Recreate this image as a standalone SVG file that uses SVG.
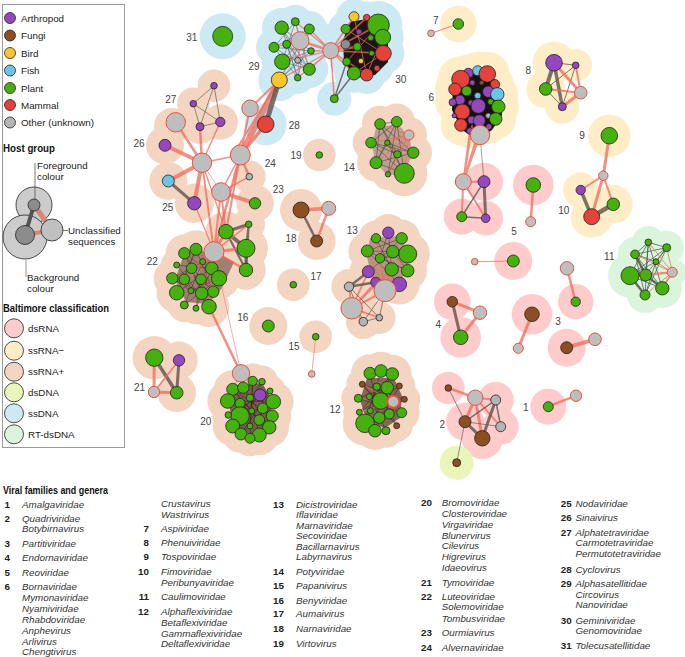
<svg xmlns="http://www.w3.org/2000/svg" width="685" height="657" viewBox="0 0 685 657">
<style>
text{font-family:"Liberation Sans",Arial,sans-serif}
.lg{font-size:9.8px;fill:#222}
.hd{font-size:10px;font-weight:bold;fill:#111}
.cl{font-size:10px;fill:#444;text-anchor:middle}
.nm{font-size:9.8px;font-weight:bold;fill:#222;text-anchor:end}
.it{font-size:9.8px;font-style:italic;fill:#333}
circle{stroke:#222;stroke-width:.8}
.ar{fill:#9448BC}.fu{fill:#8B4F22}.bi{fill:#F8C630}.fi{fill:#6DC4E4}.pl{fill:#46B00E}.ma{fill:#E4423A}.ot{fill:#B4B4B4}
.un{fill:#BEBEBE;stroke:#E9503F;stroke-width:1}
.dsr circle{fill:#FFCBCB;stroke:none}.ssm circle{fill:#FFEDC8;stroke:none}.ssp circle{fill:#F3D5C2;stroke:none}
.dsd circle{fill:#E9F5B9;stroke:none}.ssd circle{fill:#CDE9F4;stroke:none}.rt circle{fill:#DAF5DC;stroke:none}
.er{stroke:#EE6A5A;stroke-opacity:.75;fill:none;stroke-linecap:round}
.ed{stroke:#5D534D;stroke-opacity:.8;fill:none;stroke-linecap:round}
.mesh{stroke:#4a2a22;stroke-width:.7;stroke-opacity:.7;fill:none}
</style>

<g id="legend">
<rect x="2.5" y="4.5" width="122" height="443" fill="#fff" stroke="#9a9a9a"/>
<circle class="ar" cx="10" cy="18" r="5.5"/><text class="lg" x="21" y="21.5">Arthropod</text>
<circle class="fu" cx="10" cy="35.5" r="5.5"/><text class="lg" x="21" y="39">Fungi</text>
<circle class="bi" cx="10" cy="53" r="5.5"/><text class="lg" x="21" y="56.5">Bird</text>
<circle class="fi" cx="10" cy="70.5" r="5.5"/><text class="lg" x="21" y="74">Fish</text>
<circle class="pl" cx="10" cy="88" r="5.5"/><text class="lg" x="21" y="91.5">Plant</text>
<circle class="ma" cx="10" cy="105" r="5.5"/><text class="lg" x="21" y="108.5">Mammal</text>
<circle class="ot" cx="10" cy="122.5" r="5.5"/><text class="lg" x="21" y="126">Other (unknown)</text>
<text class="hd" x="3" y="152" textLength="52" lengthAdjust="spacingAndGlyphs">Host group</text>
<circle cx="34" cy="205" r="18" fill="#CCCCCC" stroke="none"/>
<circle cx="25" cy="237" r="22" fill="#CCCCCC" stroke="none"/>
<line x1="34" y1="205" x2="52" y2="230" stroke="#D9867A" stroke-width="5"/>
<line x1="25" y1="235" x2="52" y2="230" stroke="#D9867A" stroke-width="4"/>
<line x1="34" y1="205" x2="25" y2="235" stroke="#555" stroke-width="4"/>
<circle cx="34" cy="205" r="6" fill="#8C8C8C"/>
<circle cx="25" cy="235" r="9.5" fill="#8C8C8C"/>
<circle cx="52" cy="230" r="11" fill="#C0C0C0" stroke="#E8453A" stroke-width="1.2"/>
<line x1="35" y1="163" x2="35" y2="200" stroke="#555" stroke-width=".8"/>
<line x1="63" y1="230.5" x2="68" y2="230.5" stroke="#555" stroke-width=".8"/>
<line x1="26" y1="260" x2="26" y2="277" stroke="#777" stroke-width=".8"/>
<text class="lg" x="37" y="169">Foreground</text>
<text class="lg" x="37" y="180">colour</text>
<text class="lg" x="68" y="234">Unclassified</text>
<text class="lg" x="68" y="245">sequences</text>
<text class="lg" x="27" y="281">Background</text>
<text class="lg" x="27" y="292">colour</text>
<text class="hd" x="3" y="312" textLength="106" lengthAdjust="spacingAndGlyphs">Baltimore classification</text>
<circle cx="14" cy="328.3" r="9.5" fill="#FFCBCB" stroke="none"/><text class="lg" x="28" y="331.8">dsRNA</text>
<circle cx="14" cy="350.7" r="9.5" fill="#FFEDC8" stroke="none"/><text class="lg" x="28" y="354.2">ssRNA−</text>
<circle cx="14" cy="371.7" r="9.5" fill="#F3D5C2" stroke="none"/><text class="lg" x="28" y="375.2">ssRNA+</text>
<circle cx="14" cy="392.3" r="9.5" fill="#E9F5B9" stroke="none"/><text class="lg" x="28" y="395.8">dsDNA</text>
<circle cx="14" cy="413.3" r="9.5" fill="#CDE9F4" stroke="none"/><text class="lg" x="28" y="416.8">ssDNA</text>
<circle cx="14" cy="434.3" r="9.5" fill="#DAF5DC" stroke="none"/><text class="lg" x="28" y="437.8">RT-dsDNA</text>
</g>

<g id="backgrounds">
<g class="ssd">
<circle cx="222.7" cy="36.3" r="23"/>
<circle cx="281.7" cy="27.7" r="19.7"/><circle cx="295.3" cy="21.7" r="17"/><circle cx="309.3" cy="29" r="18"/><circle cx="286.7" cy="44.3" r="17"/><circle cx="274" cy="47.3" r="18"/><circle cx="311" cy="51" r="16.3"/><circle cx="297.7" cy="60.3" r="16"/><circle cx="282.3" cy="61.7" r="20.7"/><circle cx="309.3" cy="69.3" r="19"/><circle cx="297.7" cy="77.7" r="16.3"/><circle cx="279.3" cy="80" r="21"/><circle cx="300" cy="40.7" r="18"/>
<circle cx="354" cy="16.7" r="18"/><circle cx="366.7" cy="17.7" r="16.3"/><circle cx="378.3" cy="25" r="24"/><circle cx="345.7" cy="29" r="17.7"/><circle cx="382.7" cy="37.3" r="21"/><circle cx="345.7" cy="44.3" r="17.7"/><circle cx="383.3" cy="53.3" r="21"/><circle cx="346.7" cy="61.7" r="17"/><circle cx="354" cy="73.3" r="19.7"/><circle cx="366.7" cy="74.7" r="19.3"/><circle cx="377" cy="68.3" r="16"/><circle cx="334.3" cy="98.7" r="17"/><circle cx="330.7" cy="38" r="14"/>
<circle cx="265.7" cy="124.3" r="21"/>
</g>
<g class="ssm">
<circle cx="458.3" cy="24" r="18.3"/>
<circle cx="460.7" cy="79.3" r="23"/><circle cx="487.3" cy="74" r="22.3"/><circle cx="468.3" cy="73.3" r="19"/><circle cx="477.7" cy="70.7" r="19"/><circle cx="495" cy="84.3" r="18.7"/><circle cx="455" cy="89.3" r="20.3"/><circle cx="497.3" cy="94.3" r="20.7"/><circle cx="452.7" cy="102.3" r="17.7"/><circle cx="498.3" cy="106.7" r="20.7"/><circle cx="462.3" cy="111.7" r="21.7"/><circle cx="495.7" cy="119" r="20.3"/><circle cx="461" cy="125" r="20.3"/><circle cx="479.3" cy="120.7" r="20"/><circle cx="470" cy="131" r="17.3"/><circle cx="489" cy="126.7" r="17"/><circle cx="480" cy="100" r="22"/>
<circle cx="554" cy="62.7" r="21.3"/><circle cx="575.7" cy="65.3" r="16.3"/><circle cx="545.7" cy="89" r="19.3"/><circle cx="562.3" cy="106.7" r="17"/>
<circle cx="609.3" cy="135.7" r="21.3"/>
<circle cx="580.7" cy="190" r="17.7"/><circle cx="613.3" cy="204.3" r="19.3"/><circle cx="591.7" cy="216.7" r="21"/>
</g>
<g class="dsr">
<circle cx="484" cy="181.7" r="19"/><circle cx="461.7" cy="216.7" r="18"/><circle cx="485.7" cy="218.3" r="17.3"/>
<circle cx="533.3" cy="185" r="20.3"/><circle cx="513.3" cy="261" r="19"/>
<circle cx="452.3" cy="301.7" r="18.3"/><circle cx="460.7" cy="337.3" r="20.3"/>
<circle cx="532" cy="314.3" r="20.3"/><circle cx="575.7" cy="301.7" r="17.7"/><circle cx="566.7" cy="347.7" r="19"/>
<circle cx="448.3" cy="388" r="16.3"/><circle cx="495.7" cy="400" r="18"/><circle cx="465" cy="421.7" r="19"/><circle cx="500.7" cy="426.7" r="18"/><circle cx="482.3" cy="438.3" r="20.7"/>
<circle cx="548.3" cy="406.7" r="18"/>
</g>
<g class="dsd"><circle cx="456.7" cy="462.7" r="17"/></g>
<g class="rt">
<circle cx="648.3" cy="242.3" r="16.3"/><circle cx="635" cy="254.3" r="17.3"/><circle cx="666.7" cy="247.7" r="17"/><circle cx="656" cy="261.7" r="16"/><circle cx="630" cy="275.7" r="22"/><circle cx="645.7" cy="275" r="19"/><circle cx="662.3" cy="288.3" r="19.7"/><circle cx="645" cy="295" r="18"/><circle cx="672.3" cy="272.3" r="14"/>
</g>
<g class="ssp">
<circle cx="214" cy="85.7" r="16.3"/><circle cx="193.3" cy="103.7" r="16.3"/><circle cx="200" cy="126.7" r="17"/><circle cx="220.3" cy="122" r="17.7"/>
<circle cx="165" cy="145.3" r="19"/><circle cx="172" cy="126" r="18"/>
<circle cx="168.3" cy="181" r="19"/><circle cx="194.3" cy="203.3" r="19.7"/>
<circle cx="249.3" cy="176.7" r="16.3"/><circle cx="255" cy="203.3" r="18.7"/>
<circle cx="319.3" cy="155" r="16.3"/>
<circle cx="380" cy="124" r="18.3"/><circle cx="396.7" cy="121.7" r="18.3"/><circle cx="409" cy="135" r="18"/><circle cx="371" cy="142.7" r="18.3"/><circle cx="413.3" cy="152.7" r="18.7"/><circle cx="376" cy="162.7" r="19"/><circle cx="404.3" cy="173.3" r="23"/><circle cx="388" cy="174.3" r="15.7"/><circle cx="397.3" cy="154.3" r="16.7"/>
<circle cx="301" cy="210" r="21"/><circle cx="316.7" cy="241" r="19"/>
<circle cx="388.3" cy="232.7" r="18.7"/><circle cx="376" cy="238.3" r="17.7"/><circle cx="401.7" cy="238.3" r="18.7"/><circle cx="367.3" cy="251" r="19"/><circle cx="407.7" cy="254" r="22"/><circle cx="407.7" cy="270.7" r="19.3"/><circle cx="368.3" cy="271.7" r="19"/><circle cx="375.7" cy="282.3" r="18"/><circle cx="399.3" cy="284.3" r="20.3"/><circle cx="349" cy="286.7" r="17.7"/><circle cx="363.3" cy="321.7" r="17.3"/><circle cx="379.3" cy="317.7" r="16.3"/><circle cx="388" cy="260" r="20"/><circle cx="360" cy="300" r="16"/>
<circle cx="293.3" cy="284.7" r="16.3"/>
<circle cx="268.3" cy="326" r="19"/>
<circle cx="315.7" cy="336.7" r="16.3"/>
<circle cx="226" cy="231.7" r="20.3"/><circle cx="248.7" cy="224.3" r="16.3"/><circle cx="246" cy="248.3" r="22"/><circle cx="246" cy="270" r="19.7"/><circle cx="184.3" cy="253.3" r="18.7"/><circle cx="196" cy="249.3" r="19"/><circle cx="172.3" cy="278.3" r="18.7"/><circle cx="176.7" cy="292.7" r="20.3"/><circle cx="184.3" cy="305" r="17"/><circle cx="209" cy="306.7" r="20.3"/><circle cx="219" cy="278.3" r="20.7"/><circle cx="196" cy="308.3" r="16"/><circle cx="176.7" cy="265" r="16"/><circle cx="201.7" cy="293.3" r="19.3"/><circle cx="212" cy="258" r="18"/>
<circle cx="154.3" cy="357.7" r="21.7"/><circle cx="179" cy="360.3" r="18.7"/><circle cx="176.7" cy="392.7" r="19.3"/>
<circle cx="252.7" cy="381" r="17.7"/><circle cx="262" cy="381.7" r="16.3"/><circle cx="232.7" cy="389.3" r="19"/><circle cx="243.3" cy="387.7" r="18.7"/><circle cx="270" cy="391" r="16"/><circle cx="227.7" cy="401" r="20.3"/><circle cx="273.3" cy="401.7" r="20.3"/><circle cx="272.3" cy="416" r="19"/><circle cx="228.3" cy="415" r="16.3"/><circle cx="232.7" cy="426" r="20"/><circle cx="269.3" cy="427.3" r="19.7"/><circle cx="241" cy="434" r="19"/><circle cx="259.3" cy="435" r="20"/><circle cx="250" cy="438.3" r="18"/><circle cx="240" cy="416" r="22.3"/>
<circle cx="370" cy="373.3" r="19"/><circle cx="381" cy="371" r="19.3"/><circle cx="392.3" cy="374" r="19.3"/><circle cx="362.3" cy="384.3" r="16"/><circle cx="399.3" cy="386" r="16"/><circle cx="358.3" cy="398.3" r="17"/><circle cx="404.3" cy="399.3" r="16"/><circle cx="359.3" cy="412.3" r="16"/><circle cx="401.7" cy="412.7" r="18"/><circle cx="365" cy="423.3" r="22.3"/><circle cx="375" cy="430.7" r="19.3"/><circle cx="386" cy="430.7" r="17"/><circle cx="396.7" cy="425.7" r="16"/><circle cx="380.7" cy="401" r="21.3"/>
</g>
</g>

<g id="connectors">
<polygon points="462,72 490,70 500,90 502,115 492,130 478,140 462,130 452,110 453,85" fill="#161010"/>
<polygon points="350,22 372,18 388,40 388,62 375,75 355,78 344,62 343,40" fill="#1e1515"/>
<polygon points="376,128 398,124 410,138 412,156 402,176 386,174 375,162 372,144" fill="#5a4038" fill-opacity=".35"/>
<polygon points="370,238 400,236 410,256 406,274 392,286 372,282 367,256" fill="#5a3a30" fill-opacity=".4"/>
<polygon points="184,254 212,250 234,262 222,288 208,304 186,302 175,280" fill="#4a2a22" fill-opacity=".5"/>
<polygon points="237,385 262,383 272,400 270,426 255,436 234,428 229,405" fill="#3a1c16" fill-opacity=".65"/>
<polygon points="367,378 394,378 402,396 400,418 385,428 367,422 360,400" fill="#3a1c16" fill-opacity=".6"/>
<path stroke="#4b5d66" stroke-width=".7" stroke-opacity=".8" fill="none" d="M281.7 27.7L309.3 69.3M281.7 27.7L297.7 77.7M295.3 21.7L282.3 61.7M295.3 21.7L309.3 69.3M309.3 29L274 47.3M309.3 29L282.3 61.7M309.3 29L297.7 77.7M274 47.3L311 51M274 47.3L309.3 69.3M286.7 44.3L309.3 69.3M282.3 61.7L311 51M282.3 61.7L309.3 69.3M279.3 80L311 51M279.3 80L309.3 29M297.7 60.3L281.7 27.7M297.7 77.7L274 47.3M286.7 44.3L297.7 77.7M295.3 21.7L274 47.3M281.7 27.7L311 51M279.3 80L297.7 60.3"/>
<path class="er" stroke-width=".9" d="M300 40.7L281.7 27.7M300 40.7L274 47.3M300 40.7L282.3 61.7M300 40.7L297.7 77.7M300 40.7L309.3 69.3M300 40.7L279.3 80M300 40.7L286.7 44.3M300 40.7L297.7 60.3M300 40.7L295.3 21.7"/>
<path class="er" stroke-width="1.3" d="M330.7 50.7L309.3 29M330.7 50.7L311 51M330.7 50.7L309.3 69.3M330.7 50.7L297.7 77.7M330.7 50.7L295.3 21.7M330.7 50.7L279.3 80M330.7 50.7L282.3 61.7"/>
<path class="er" stroke-width="2.5" d="M330.7 50.7L300 40.7M330.7 50.7L345.7 44.3M330.7 50.7L357.3 46.7"/>
<path class="er" stroke-width="1.6" d="M330.7 50.7L345.7 29M330.7 50.7L346.7 61.7M330.7 50.7L354 73.3M330.7 50.7L354 16.7M330.7 50.7L366.7 74.7M330.7 50.7L378.3 25M330.7 50.7L383.3 53.3M330.7 50.7L366.7 17.7M330.7 50.7L334.3 98.7"/>
<path class="er" stroke-width="1" d="M354 73.3L383.3 53.3M345.7 29L383.3 53.3M346.7 61.7L378.3 25M366.7 74.7L382.7 37.3M354 16.7L366.7 74.7"/>
<path class="ed" stroke-width="1.5" d="M334.3 98.7L346.7 61.7M334.3 98.7L354 73.3"/>
<path class="er" stroke-width="6" stroke-opacity=".6" d="M279.3 80L240.3 155"/>
<path class="er" stroke-width="2" d="M279.3 80L236 150M279.3 80L250 108.3M240.3 155L250 108.3"/>
<path class="ed" stroke-width="5" d="M279.3 80L265.7 124.3"/>
<path class="er" stroke-width="3.5" d="M240.3 155L265.7 124.3"/>
<path class="er" stroke-width="4" d="M202 162.7L165 145.3M202 162.7L168.3 181M202 162.7L194.3 203.3M221 192L255 203.3"/>
<path class="er" stroke-width="2.5" d="M202 162.7L175.7 122.3M202 162.7L200 126.7M240.3 155L249.3 176.7"/>
<path class="er" stroke-width="1.5" d="M202 162.7L220.3 122M202 162.7L240.3 155M240.3 155L221 192M221 192L249.3 176.7"/>
<path class="er" stroke-width=".7" d="M202 162.7L221 192"/>
<path class="ed" stroke-width="3" d="M168.3 181L194.3 203.3"/>
<path class="ed" stroke-width=".8" d="M214 85.7L193.3 103.7M214 85.7L200 126.7M214 85.7L220.3 122M193.3 103.7L200 126.7M193.3 103.7L220.3 122M200 126.7L220.3 122"/>
<path class="er" stroke-width="2" d="M202 162.7L214 251.7M221 192L214 251.7M240.3 155L226 231.7M221 192L226 231.7"/>
<path class="er" stroke-width="2.5" d="M240.3 155L214 251.7"/>
<path class="er" stroke-width="1.3" d="M194.3 203.3L214 251.7M202 162.7L226 231.7"/>
<path class="mesh" d="M184.3 253.3L219 278.3M184.3 253.3L201.7 293.3M196 249.3L176.7 292.7M196 249.3L213.3 291.7M176.7 265L211.7 268.3M176.7 265L209 306.7M191.7 268.3L213.3 291.7M202.7 261.7L184.3 305M202.7 261.7L172.3 278.3M211.7 268.3L176.7 292.7M219 278.3L184.3 305M172.3 278.3L191 290.7M184.3 279.3L209 306.7M201 279.3L196 308.3M191 290.7L219 278.3M201.7 293.3L172.3 278.3M196 249.3L184.3 279.3M191.7 268.3L209 306.7M211.7 268.3L196 308.3M184.3 253.3L201 279.3"/>
<path class="er" stroke-width="1.2" d="M214 251.7L184.3 253.3M214 251.7L191.7 268.3M214 251.7L211.7 268.3M214 251.7L219 278.3M214 251.7L184.3 279.3M214 251.7L201.7 293.3M214 251.7L176.7 292.7M214 251.7L209 306.7M214 251.7L202.7 261.7"/>
<path class="ed" stroke-width="3" d="M226 231.7L248.7 224.3M246 248.3L246 270"/>
<path class="ed" stroke-width="4" d="M226 231.7L246 248.3"/>
<path class="ed" stroke-width="2.2" d="M248.7 224.3L246 248.3M248.7 224.3L246 270M226 231.7L246 270"/>
<path class="er" stroke-width="3" d="M214 251.7L226 231.7M214 251.7L246 248.3"/>
<path class="er" stroke-width="2.5" d="M214 251.7L246 270"/>
<path class="er" stroke-width="1.5" d="M214 251.7L248.7 224.3"/>
<path class="er" stroke-width="2.5" d="M209 306.7L241 373.3"/>
<path class="er" stroke-width=".7" d="M214 251.7L241 373.3"/>
<path stroke="#3a1a14" stroke-width=".7" stroke-opacity=".7" fill="none" d="M252.7 381L250 426M262 381.7L240 416M232.7 389.3L272.3 416M243.3 387.7L269.3 427.3M270 391L228.3 415M260 395L232.7 426M250 397.7L259.3 435M227.7 401L273.3 401.7M240 403.3L269.3 427.3M262.7 408.3L228.3 415M273.3 401.7L241 434M251.7 411L232.7 389.3M259.3 420L232.7 389.3M250 438.3L252.7 381M241 434L270 391"/>
<path class="er" stroke-width="1" d="M241 373.3L252.7 381M241 373.3L243.3 387.7M241 373.3L232.7 389.3M241 373.3L262 381.7"/>
<path class="ed" stroke-width="3.5" d="M154.3 357.7L176.7 392.7"/>
<path class="ed" stroke-width="3" d="M179 360.3L176.7 392.7"/>
<path class="er" stroke-width="3" d="M154.3 357.7L154 392M154 392L176.7 392.7"/>
<path class="er" stroke-width="1.8" d="M179 360.3L154 392"/>
<path class="ed" stroke-width="2.5" d="M301 210L316.7 241"/>
<path class="er" stroke-width="3.5" d="M301 210L328.7 208.3"/>
<path class="er" stroke-width="2.5" d="M328.7 208.3L316.7 241"/>
<path class="er" stroke-width=".8" d="M315.7 336.7L311.7 374"/>
<path stroke="#4e4038" stroke-width=".8" stroke-opacity=".75" fill="none" d="M380 124L413.3 152.7M380 124L397.3 154.3M380 124L404.3 173.3M380 124L376 162.7M396.7 121.7L371 142.7M396.7 121.7L376 162.7M396.7 121.7L388 174.3M396.7 121.7L404.3 173.3M371 142.7L413.3 152.7M371 142.7L404.3 173.3M371 142.7L397.3 154.3M387.3 142.7L404.3 173.3M387.3 142.7L413.3 152.7M376 162.7L413.3 152.7M397.3 154.3L388 174.3M387.3 142.7L376 162.7M376 162.7L404.3 173.3M380 124L396.7 121.7"/>
<path class="er" stroke-width="1" d="M409 135L371 142.7M409 135L376 162.7M409 135L380 124M409 135L397.3 154.3M409 135L388 174.3M409 135L404.3 173.3M409 135L387.3 142.7"/>
<path stroke="#4e4038" stroke-width=".8" stroke-opacity=".75" fill="none" d="M376 238.3L407.7 254M367.3 251L407.7 270.7M388.3 232.7L391.7 269.3M401.7 238.3L367.3 251M392.7 251.7L368.3 271.7M380 258.3L407.7 270.7M376 238.3L391.7 269.3M367.3 251L399.3 284.3M388.3 232.7L380 258.3M401.7 238.3L380 258.3M392.7 251.7L407.7 270.7M407.7 254L380 258.3M367.3 251L392.7 251.7"/>
<path class="er" stroke-width="1.2" d="M385 290.7L367.3 251M385 290.7L380 258.3M385 290.7L392.7 251.7M385 290.7L391.7 269.3M385 290.7L368.3 271.7M385 290.7L376 238.3M385 290.7L407.7 254"/>
<path class="er" stroke-width="1.8" d="M351.7 308.3L368.3 271.7M351.7 308.3L375.7 282.3M351.7 308.3L385 290.7M351.7 308.3L363.3 321.7M351.7 308.3L379.3 317.7M351.7 308.3L349 286.7M351.7 308.3L399.3 284.3M351.7 308.3L391.7 269.3"/>
<path class="ed" stroke-width="2.5" d="M349 286.7L368.3 271.7M349 286.7L375.7 282.3"/>
<path class="ed" stroke-width=".9" d="M349 286.7L363.3 321.7M349 286.7L379.3 317.7M363.3 321.7L385 290.7M379.3 317.7L385 290.7M363.3 321.7L379.3 317.7"/>
<path stroke="#3a1a14" stroke-width=".7" stroke-opacity=".7" fill="none" d="M370 373.3L401.7 412.7M381 371L365 423.3M392.3 374L359.3 412.3M362.3 384.3L404.3 399.3M376.7 386.7L396.7 425.7M387.3 387.7L358.3 398.3M399.3 386L375 430.7M358.3 398.3L401.7 412.7M369.3 396.7L386 430.7M362.3 384.3L396.7 425.7M359.3 412.3L399.3 386M370.3 410.7L392.3 374M379.3 417.7L370 373.3M389.3 414L362.3 384.3M365 423.3L404.3 399.3"/>
<path class="er" stroke-width="1" d="M393.3 401.7L362.3 384.3M393.3 401.7L358.3 398.3M393.3 401.7L359.3 412.3M393.3 401.7L365 423.3M393.3 401.7L370 373.3M393.3 401.7L375 430.7"/>
<path stroke="#49584a" stroke-width="1" stroke-opacity=".75" fill="none" d="M648.3 242.3L630 275.7M648.3 242.3L645.7 275M648.3 242.3L645 295M648.3 242.3L662.3 288.3M635 254.3L645.7 275M635 254.3L662.3 288.3M635 254.3L645 295M635 254.3L656 261.7M666.7 247.7L630 275.7M666.7 247.7L645.7 275M666.7 247.7L645 295M666.7 247.7L656 261.7M656 261.7L630 275.7M656 261.7L645 295M630 275.7L662.3 288.3M645.7 275L662.3 288.3M630 275.7L645 295M635 254.3L666.7 247.7M648.3 242.3L635 254.3M648.3 242.3L666.7 247.7"/>
<path class="ed" stroke-width="2.5" d="M630 275.7L645 295M645.7 275L662.3 288.3M635 254.3L645.7 275"/>
<path class="er" stroke-width="2" d="M672.3 272.3L630 275.7M672.3 272.3L645.7 275M672.3 272.3L662.3 288.3"/>
<path class="er" stroke-width="1" d="M672.3 272.3L635 254.3M672.3 272.3L656 261.7M672.3 272.3L648.3 242.3M672.3 272.3L645 295M672.3 272.3L666.7 247.7"/>
<path class="er" stroke-width="1.2" d="M431 33.3L458.3 24"/>
<path class="ed" stroke-width="4" d="M554 62.7L545.7 89"/>
<path class="ed" stroke-width="3.5" d="M554 62.7L562.3 106.7"/>
<path class="ed" stroke-width="1" d="M554 62.7L575.7 65.3M575.7 65.3L545.7 89M545.7 89L562.3 106.7M575.7 65.3L562.3 106.7"/>
<path class="er" stroke-width="3" d="M554 62.7L580.7 92.7M580.7 92.7L562.3 106.7"/>
<path class="er" stroke-width="2" d="M575.7 65.3L580.7 92.7M545.7 89L580.7 92.7"/>
<path class="er" stroke-width="3" d="M609.3 135.7L603.3 175.7M603.3 175.7L591.7 216.7"/>
<path class="er" stroke-width="2" d="M603.3 175.7L580.7 190M603.3 175.7L613.3 204.3"/>
<path class="ed" stroke-width="3.5" d="M580.7 190L591.7 216.7"/>
<path class="ed" stroke-width="4.5" d="M591.7 216.7L613.3 204.3"/>
<path class="er" stroke-width="2" d="M476 140L463.3 181.7M470 131L463.3 181.7M472 126L463.3 181.7M480 135L463.3 181.7"/>
<path class="ed" stroke-width=".7" d="M480 135L484 181.7"/>
<path class="er" stroke-width="2" d="M463.3 181.7L484 181.7M463.3 181.7L461.7 216.7M463.3 181.7L485.7 218.3"/>
<path class="ed" stroke-width="3" d="M484 181.7L485.7 218.3"/>
<path class="ed" stroke-width="1.5" d="M484 181.7L461.7 216.7M461.7 216.7L485.7 218.3"/>
<path class="er" stroke-width="2.5" d="M533.3 185L530.7 221.7"/>
<path class="er" stroke-width="1" d="M513.3 261L474.7 261.7"/>
<path class="ed" stroke-width="3" d="M452.3 301.7L460.7 337.3"/>
<path class="er" stroke-width="3" d="M452.3 301.7L480 312.7M480 312.7L460.7 337.3M532 314.3L518.3 348.3"/>
<path class="er" stroke-width="2.5" d="M567 268.3L575.7 301.7M548.3 406.7L576 395.7"/>
<path class="er" stroke-width="4" d="M566.7 347.7L595 339.3"/>
<path class="er" stroke-width="2.5" d="M448.3 388L475.3 397.7"/>
<path class="er" stroke-width="3" d="M475.3 397.7L465 421.7M475.3 397.7L482.3 438.3"/>
<path class="er" stroke-width="1.8" d="M475.3 397.7L495.7 400M475.3 397.7L500.7 426.7"/>
<path class="ed" stroke-width="3" d="M465 421.7L482.3 438.3M495.7 400L482.3 438.3"/>
<path class="ed" stroke-width="1.5" d="M495.7 400L465 421.7M495.7 400L500.7 426.7"/>
<path class="ed" stroke-width=".8" d="M448.3 388L465 421.7M465 421.7L456.7 462.7M465 421.7L500.7 426.7"/>
</g>

<g id="c31"><circle class="pl" cx="222.7" cy="36.3" r="10"/></g>
<g id="c29">
<circle class="pl" cx="281.7" cy="27.7" r="6.7"/><circle class="pl" cx="295.3" cy="21.7" r="4"/><circle class="pl" cx="309.3" cy="29" r="5"/><circle class="un" cx="300" cy="40.7" r="9"/><circle class="pl" cx="286.7" cy="44.3" r="4"/><circle class="pl" cx="274" cy="47.3" r="5"/><circle class="pl" cx="311" cy="51" r="3.3"/><circle class="ot" cx="297.7" cy="60.3" r="3"/><circle class="pl" cx="282.3" cy="61.7" r="7.7"/><circle class="pl" cx="309.3" cy="69.3" r="6"/><circle class="pl" cx="297.7" cy="77.7" r="3.3"/><circle class="bi" cx="279.3" cy="80" r="8"/>
</g>
<g id="c30">
<circle class="un" cx="330.7" cy="50.7" r="8"/><circle class="bi" cx="354" cy="16.7" r="5"/><circle class="ma" cx="366.7" cy="17.7" r="3.3"/><circle class="pl" cx="378.3" cy="25" r="11"/><circle class="ar" cx="359" cy="31.7" r="2.7"/><circle class="pl" cx="345.7" cy="29" r="4.7"/><circle class="pl" cx="382.7" cy="37.3" r="8"/><circle class="ot" cx="345.7" cy="44.3" r="4.7" style="fill:#8E8E8E"/><circle class="pl" cx="357.3" cy="46.7" r="4"/><circle class="pl" cx="370.7" cy="37.7" r="3"/><circle class="ma" cx="383.3" cy="53.3" r="8"/><circle class="pl" cx="371.7" cy="53.3" r="2.7"/><circle class="pl" cx="346.7" cy="61.7" r="4"/><circle class="bi" cx="361" cy="61" r="2.7"/><circle class="ma" cx="377" cy="68.3" r="3"/><circle class="pl" cx="354" cy="73.3" r="6.7"/><circle class="ma" cx="366.7" cy="74.7" r="6.3"/><circle class="pl" cx="334.3" cy="98.7" r="4"/>
</g>
<g id="c28"><circle class="un" cx="250" cy="108.3" r="8.3"/><circle class="ma" cx="265.7" cy="124.3" r="8.3"/></g>
<g id="c27"><circle class="ar" cx="214" cy="85.7" r="3.3"/><circle class="ar" cx="193.3" cy="103.7" r="3.3"/><circle class="ar" cx="200" cy="126.7" r="4"/><circle class="ar" cx="220.3" cy="122" r="4.7"/></g>
<g id="c26"><circle class="un" cx="175.7" cy="122.3" r="9.7"/><circle class="ar" cx="165" cy="145.3" r="6"/></g>
<g id="c24"><circle class="un" cx="202" cy="162.7" r="9.7"/><circle class="un" cx="240.3" cy="155" r="10"/></g>
<g id="c25"><circle class="fi" cx="168.3" cy="181" r="6"/><circle class="ar" cx="194.3" cy="203.3" r="6.7"/></g>
<g id="c23"><circle class="un" cx="221" cy="192" r="9.3"/><circle class="ot" cx="249.3" cy="176.7" r="3.3"/><circle class="pl" cx="255" cy="203.3" r="5.7"/></g>
<g id="c19"><circle class="pl" cx="319.3" cy="155" r="3.3"/></g>
<g id="c14">
<circle class="pl" cx="380" cy="124" r="5.3"/><circle class="pl" cx="396.7" cy="121.7" r="5.3"/><circle class="un" cx="409" cy="135" r="5"/><circle class="pl" cx="371" cy="142.7" r="5.3"/><circle class="pl" cx="387.3" cy="142.7" r="2.7"/><circle class="pl" cx="413.3" cy="152.7" r="5.7"/><circle class="pl" cx="397.3" cy="154.3" r="3.7"/><circle class="pl" cx="376" cy="162.7" r="6"/><circle class="pl" cx="388" cy="174.3" r="2.7"/><circle class="pl" cx="404.3" cy="173.3" r="10"/>
</g>
<g id="c18"><circle class="fu" cx="301" cy="210" r="8"/><circle class="un" cx="328.7" cy="208.3" r="7"/><circle class="fu" cx="316.7" cy="241" r="6"/></g>
<g id="c13">
<circle class="ar" cx="388.3" cy="232.7" r="5.7"/><circle class="pl" cx="376" cy="238.3" r="4.7"/><circle class="pl" cx="401.7" cy="238.3" r="5.7"/><circle class="pl" cx="367.3" cy="251" r="6"/><circle class="pl" cx="392.7" cy="251.7" r="6.3"/><circle class="pl" cx="407.7" cy="254" r="9"/><circle class="pl" cx="380" cy="258.3" r="4.7"/><circle class="pl" cx="391.7" cy="269.3" r="6.7"/><circle class="pl" cx="407.7" cy="270.7" r="6.3"/><circle class="ar" cx="368.3" cy="271.7" r="6"/><circle class="ar" cx="375.7" cy="282.3" r="5"/><circle class="ar" cx="399.3" cy="284.3" r="7.3"/><circle class="un" cx="385" cy="290.7" r="11"/><circle class="ot" cx="349" cy="286.7" r="4.7"/><circle class="un" cx="351.7" cy="308.3" r="10.7"/><circle class="ot" cx="363.3" cy="321.7" r="4.3"/><circle class="ot" cx="379.3" cy="317.7" r="3.3"/>
</g>
<g id="c17"><circle class="pl" cx="293.3" cy="284.7" r="3.3"/></g>
<g id="c16"><circle class="pl" cx="268.3" cy="326" r="6"/></g>
<g id="c15"><circle class="pl" cx="315.7" cy="336.7" r="3.3"/><circle class="un" cx="311.7" cy="374" r="3.3"/></g>
<g id="c22">
<circle class="pl" cx="226" cy="231.7" r="7.3"/><circle class="pl" cx="248.7" cy="224.3" r="3.3"/><circle class="pl" cx="246" cy="248.3" r="9"/><circle class="pl" cx="246" cy="270" r="6.7"/><circle class="pl" cx="184.3" cy="253.3" r="5.7"/><circle class="pl" cx="196" cy="249.3" r="6"/><circle class="pl" cx="176.7" cy="265" r="3"/><circle class="pl" cx="191.7" cy="268.3" r="5.3"/><circle class="pl" cx="202.7" cy="261.7" r="3"/><circle class="pl" cx="211.7" cy="268.3" r="6.3"/><circle class="pl" cx="219" cy="278.3" r="7.7"/><circle class="pl" cx="172.3" cy="278.3" r="5.7"/><circle class="pl" cx="184.3" cy="279.3" r="5.3"/><circle class="pl" cx="201" cy="279.3" r="5.3"/><circle class="pl" cx="176.7" cy="292.7" r="7.3"/><circle class="pl" cx="191" cy="290.7" r="3"/><circle class="pl" cx="201.7" cy="293.3" r="6.3"/><circle class="pl" cx="213.3" cy="291.7" r="5.7"/><circle class="pl" cx="184.3" cy="305" r="4"/><circle class="pl" cx="196" cy="308.3" r="3"/><circle class="pl" cx="209" cy="306.7" r="7.3"/><circle class="un" cx="214" cy="251.7" r="10"/>
</g>
<g id="c21"><circle class="pl" cx="154.3" cy="357.7" r="8.7"/><circle class="ar" cx="179" cy="360.3" r="5.7"/><circle class="un" cx="154" cy="392" r="5.7"/><circle class="pl" cx="176.7" cy="392.7" r="6.3"/></g>
<g id="c20">
<circle class="un" cx="241" cy="373.3" r="8.7"/><circle class="pl" cx="252.7" cy="381" r="4.7"/><circle class="pl" cx="262" cy="381.7" r="3.3"/><circle class="pl" cx="232.7" cy="389.3" r="6"/><circle class="pl" cx="243.3" cy="387.7" r="5.7"/><circle class="pl" cx="270" cy="391" r="3"/><circle class="ar" cx="260" cy="395" r="6"/><circle class="pl" cx="250" cy="397.7" r="3.7"/><circle class="pl" cx="227.7" cy="401" r="7.3"/><circle class="pl" cx="240" cy="403.3" r="5"/><circle class="pl" cx="262.7" cy="408.3" r="5.3"/><circle class="pl" cx="273.3" cy="401.7" r="7.3"/><circle class="pl" cx="251.7" cy="411" r="3"/><circle class="pl" cx="272.3" cy="416" r="6"/><circle class="pl" cx="240" cy="416" r="9.3"/><circle class="pl" cx="228.3" cy="415" r="3.3"/><circle class="pl" cx="259.3" cy="420" r="5.3"/><circle class="pl" cx="232.7" cy="426" r="7"/><circle class="pl" cx="250" cy="426" r="3"/><circle class="pl" cx="269.3" cy="427.3" r="6.7"/><circle class="pl" cx="241" cy="434" r="6"/><circle class="pl" cx="259.3" cy="435" r="7"/><circle class="pl" cx="250" cy="438.3" r="5"/>
</g>
<g id="c12">
<circle class="pl" cx="370" cy="373.3" r="6"/><circle class="pl" cx="381" cy="371" r="6.3"/><circle class="pl" cx="392.3" cy="374" r="6.3"/><circle class="fu" cx="362.3" cy="384.3" r="3"/><circle class="pl" cx="376.7" cy="386.7" r="3.7"/><circle class="pl" cx="387.3" cy="387.7" r="6.3"/><circle class="fu" cx="399.3" cy="386" r="3"/><circle class="pl" cx="358.3" cy="398.3" r="4"/><circle class="pl" cx="369.3" cy="396.7" r="3"/><circle class="pl" cx="380.7" cy="401" r="8.3"/><circle class="un" cx="393.3" cy="401.7" r="6" style="stroke-width:2"/><circle class="fu" cx="404.3" cy="399.3" r="3"/><circle class="pl" cx="359.3" cy="412.3" r="3"/><circle class="pl" cx="370.3" cy="410.7" r="3"/><circle class="pl" cx="379.3" cy="417.7" r="5.7"/><circle class="pl" cx="389.3" cy="414" r="5"/><circle class="pl" cx="401.7" cy="412.7" r="5"/><circle class="pl" cx="365" cy="423.3" r="9.3"/><circle class="pl" cx="375" cy="430.7" r="6.3"/><circle class="pl" cx="386" cy="430.7" r="4"/><circle class="fu" cx="396.7" cy="425.7" r="3"/>
</g>
<g id="c11">
<circle class="pl" cx="648.3" cy="242.3" r="3.3"/><circle class="pl" cx="635" cy="254.3" r="4.3"/><circle class="pl" cx="666.7" cy="247.7" r="4"/><circle class="pl" cx="656" cy="261.7" r="3"/><circle class="un" cx="672.3" cy="272.3" r="5"/><circle class="pl" cx="630" cy="275.7" r="9"/><circle class="pl" cx="645.7" cy="275" r="6"/><circle class="pl" cx="662.3" cy="288.3" r="6.7"/><circle class="pl" cx="645" cy="295" r="5"/>
</g>
<g id="c7"><circle class="pl" cx="458.3" cy="24" r="5.3"/><circle class="un" cx="431" cy="33.3" r="3.3"/></g>
<g id="c6">
<circle class="ar" cx="468.3" cy="73.3" r="5"/><circle class="fi" cx="477.7" cy="70.7" r="5"/><circle class="ma" cx="460.7" cy="79.3" r="9"/><circle class="ma" cx="487.3" cy="74" r="8.3"/><circle class="ma" cx="495" cy="84.3" r="4.7"/><circle class="ma" cx="455" cy="89.3" r="6.3"/><circle class="pl" cx="466.7" cy="91" r="5"/><circle class="ar" cx="472.3" cy="82.7" r="2.7"/><circle class="fu" cx="481.7" cy="82.7" r="2.3"/><circle class="ar" cx="488.3" cy="91.7" r="5.7"/><circle class="fi" cx="497.3" cy="94.3" r="6.7"/><circle class="ar" cx="460" cy="100" r="5"/><circle class="ar" cx="452.7" cy="102.3" r="3.7"/><circle class="fi" cx="477.7" cy="95.7" r="3.3"/><circle class="ar" cx="470.7" cy="102.7" r="2.7"/><circle class="ar" cx="478.3" cy="106" r="7.3"/><circle class="pl" cx="490.7" cy="101.7" r="3"/><circle class="pl" cx="498.3" cy="106.7" r="6.7"/><circle class="ma" cx="462.3" cy="111.7" r="7.7"/><circle class="ar" cx="454.3" cy="115.7" r="2.3"/><circle class="ot" cx="488.3" cy="115.7" r="2.7"/><circle class="pl" cx="495.7" cy="119" r="6.3"/><circle class="ar" cx="471.7" cy="120" r="4"/><circle class="ma" cx="461" cy="125" r="6.3"/><circle class="ar" cx="479.3" cy="120.7" r="6"/><circle class="ar" cx="489" cy="126.7" r="3"/><circle class="ar" cx="470" cy="131" r="3.3"/><circle class="un" cx="480" cy="135" r="9.7"/>
<circle class="un" cx="463.3" cy="181.7" r="8"/><circle class="ar" cx="484" cy="181.7" r="6"/><circle class="pl" cx="461.7" cy="216.7" r="5"/><circle class="ar" cx="485.7" cy="218.3" r="4.3"/>
</g>
<g id="c8"><circle class="ar" cx="554" cy="62.7" r="8.3"/><circle class="ar" cx="575.7" cy="65.3" r="3.3"/><circle class="pl" cx="545.7" cy="89" r="6.3"/><circle class="un" cx="580.7" cy="92.7" r="6.3"/><circle class="ar" cx="562.3" cy="106.7" r="4"/></g>
<g id="c9"><circle class="pl" cx="609.3" cy="135.7" r="8.3"/><circle class="un" cx="603.3" cy="175.7" r="4.7"/></g>
<g id="c10"><circle class="ar" cx="580.7" cy="190" r="4.7"/><circle class="pl" cx="613.3" cy="204.3" r="6.3"/><circle class="ma" cx="591.7" cy="216.7" r="8"/></g>
<g id="c5"><circle class="pl" cx="533.3" cy="185" r="7.3"/><circle class="un" cx="530.7" cy="221.7" r="5"/><circle class="pl" cx="513.3" cy="261" r="6"/><circle class="un" cx="474.7" cy="261.7" r="3.3"/></g>
<g id="c4"><circle class="fu" cx="452.3" cy="301.7" r="5.3"/><circle class="un" cx="480" cy="312.7" r="6.7"/><circle class="pl" cx="460.7" cy="337.3" r="7.3"/></g>
<g id="c3"><circle class="fu" cx="532" cy="314.3" r="7.3"/><circle class="un" cx="518.3" cy="348.3" r="5"/><circle class="un" cx="567" cy="268.3" r="6.7"/><circle class="pl" cx="575.7" cy="301.7" r="4.7"/><circle class="fu" cx="566.7" cy="347.7" r="6"/><circle class="un" cx="595" cy="339.3" r="6.3"/></g>
<g id="c2"><circle class="fu" cx="448.3" cy="388" r="3.3"/><circle class="un" cx="475.3" cy="397.7" r="7.7"/><circle class="ot" cx="495.7" cy="400" r="5"/><circle class="fu" cx="465" cy="421.7" r="6"/><circle class="ot" cx="500.7" cy="426.7" r="5"/><circle class="fu" cx="482.3" cy="438.3" r="7.7"/><circle class="fu" cx="456.7" cy="462.7" r="4"/></g>
<g id="c1"><circle class="pl" cx="548.3" cy="406.7" r="5"/><circle class="un" cx="576" cy="395.7" r="5.7"/></g>

<g id="cluster-labels">
<text class="cl" x="525.7" y="410.8">1</text>
<text class="cl" x="442.3" y="427.8">2</text>
<text class="cl" x="558" y="324.5">3</text>
<text class="cl" x="438.3" y="327.8">4</text>
<text class="cl" x="514" y="235.2">5</text>
<text class="cl" x="431.3" y="101.2">6</text>
<text class="cl" x="435.7" y="24.2">7</text>
<text class="cl" x="528.3" y="74.2">8</text>
<text class="cl" x="582" y="138.5">9</text>
<text class="cl" x="563.7" y="213.5">10</text>
<text class="cl" x="609.3" y="260.2">11</text>
<text class="cl" x="335" y="412.8">12</text>
<text class="cl" x="352.3" y="234.2">13</text>
<text class="cl" x="349.3" y="170.8">14</text>
<text class="cl" x="294" y="350.2">15</text>
<text class="cl" x="242.7" y="321.2">16</text>
<text class="cl" x="316" y="280.2">17</text>
<text class="cl" x="291" y="241.8">18</text>
<text class="cl" x="296" y="158.5">19</text>
<text class="cl" x="205.7" y="424.5">20</text>
<text class="cl" x="139.5" y="390.5">21</text>
<text class="cl" x="152.3" y="265.2">22</text>
<text class="cl" x="278.3" y="192.5">23</text>
<text class="cl" x="270.3" y="166.8">24</text>
<text class="cl" x="167.7" y="211.2">25</text>
<text class="cl" x="139" y="146.8">26</text>
<text class="cl" x="170.7" y="102.5">27</text>
<text class="cl" x="294.3" y="129.2">28</text>
<text class="cl" x="254" y="70.2">29</text>
<text class="cl" x="400.7" y="82.8">30</text>
<text class="cl" x="191.7" y="41.2">31</text>
</g>

<g id="families">
<text class="hd" x="3" y="493.5" textLength="105" lengthAdjust="spacingAndGlyphs">Viral families and genera</text>
<text class="nm" x="10" y="508">1</text><text class="it" x="22" y="508">Amalgaviridae</text>
<text class="nm" x="10" y="521.5">2</text><text class="it" x="22" y="521.5">Quadriviridae</text>
<text class="it" x="22" y="532">Botybirnavirus</text>
<text class="nm" x="10" y="547">3</text><text class="it" x="22" y="547">Partitiviridae</text>
<text class="nm" x="10" y="560.5">4</text><text class="it" x="22" y="560.5">Endornaviridae</text>
<text class="nm" x="10" y="575.5">5</text><text class="it" x="22" y="575.5">Reoviridae</text>
<text class="nm" x="10" y="589.5">6</text><text class="it" x="22" y="589.5">Bornaviridae</text>
<text class="it" x="22" y="600.8">Mymonaviridae</text>
<text class="it" x="22" y="611.8">Nyamiviridae</text>
<text class="it" x="22" y="622.8">Rhabdoviridae</text>
<text class="it" x="22" y="633.8">Anphevirus</text>
<text class="it" x="22" y="644.8">Arlivirus</text>
<text class="it" x="22" y="655">Chengtivirus</text>

<text class="it" x="161" y="506.8">Crustavirus</text>
<text class="it" x="161" y="517.5">Wastrivirus</text>
<text class="nm" x="149" y="531.8">7</text><text class="it" x="161" y="531.8">Aspiviridae</text>
<text class="nm" x="149" y="546.2">8</text><text class="it" x="161" y="546.2">Phenuiviridae</text>
<text class="nm" x="149" y="560.2">9</text><text class="it" x="161" y="560.2">Tospoviridae</text>
<text class="nm" x="149" y="575.2">10</text><text class="it" x="161" y="575.2">Fimoviridae</text>
<text class="it" x="161" y="585.8">Peribunyaviridae</text>
<text class="nm" x="149" y="600.2">11</text><text class="it" x="161" y="600.2">Caulimoviridae</text>
<text class="nm" x="149" y="615.2">12</text><text class="it" x="161" y="615.2">Alphaflexiviridae</text>
<text class="it" x="161" y="626.2">Betaflexiviridae</text>
<text class="it" x="161" y="636.8">Gammaflexiviridae</text>
<text class="it" x="161" y="646.8">Deltaflexiviridae</text>

<text class="nm" x="284" y="507.8">13</text><text class="it" x="296" y="507.8">Dicistroviridae</text>
<text class="it" x="296" y="518.3">Iflaviridae</text>
<text class="it" x="296" y="528.8">Marnaviridae</text>
<text class="it" x="296" y="539">Secoviridae</text>
<text class="it" x="296" y="549.5">Bacillarnavirus</text>
<text class="it" x="296" y="560">Labyrnavirus</text>
<text class="nm" x="284" y="575.2">14</text><text class="it" x="296" y="575.2">Potyviridae</text>
<text class="nm" x="284" y="588.8">15</text><text class="it" x="296" y="588.8">Papanivirus</text>
<text class="nm" x="284" y="603.5">16</text><text class="it" x="296" y="603.5">Benyviridae</text>
<text class="nm" x="284" y="617">17</text><text class="it" x="296" y="617">Aumaivirus</text>
<text class="nm" x="284" y="631.8">18</text><text class="it" x="296" y="631.8">Narnaviridae</text>
<text class="nm" x="284" y="646.8">19</text><text class="it" x="296" y="646.8">Virtovirus</text>

<text class="nm" x="432" y="505.5">20</text><text class="it" x="441.7" y="505.5">Bromoviridae</text>
<text class="it" x="441.7" y="516.5">Closteroviridae</text>
<text class="it" x="441.7" y="527.5">Virgaviridae</text>
<text class="it" x="441.7" y="538.5">Blunervirus</text>
<text class="it" x="441.7" y="549.3">Cilevirus</text>
<text class="it" x="441.7" y="560.2">Higrevirus</text>
<text class="it" x="441.7" y="570.5">Idaeovirus</text>
<text class="nm" x="432" y="585.8">21</text><text class="it" x="441.7" y="585.8">Tymoviridae</text>
<text class="nm" x="432" y="599.5">22</text><text class="it" x="441.7" y="599.5">Luteoviridae</text>
<text class="it" x="441.7" y="610.3">Solemoviridae</text>
<text class="it" x="441.7" y="621.5">Tombusviridae</text>
<text class="nm" x="432" y="635.8">23</text><text class="it" x="441.7" y="635.8">Ourmiavirus</text>
<text class="nm" x="432" y="651">24</text><text class="it" x="441.7" y="651">Alvernaviridae</text>

<text class="nm" x="571.7" y="506.8">25</text><text class="it" x="575.5" y="506.8">Nodaviridae</text>
<text class="nm" x="571.7" y="521.2">26</text><text class="it" x="575.5" y="521.2">Sinaivirus</text>
<text class="nm" x="571.7" y="535.8">27</text><text class="it" x="575.5" y="535.8">Alphatetraviridae</text>
<text class="it" x="575.5" y="546.3">Carmotetraviridae</text>
<text class="it" x="575.5" y="557.3">Permutotetraviridae</text>
<text class="nm" x="571.7" y="572.5">28</text><text class="it" x="575.5" y="572.5">Cyclovirus</text>
<text class="nm" x="571.7" y="586.8">29</text><text class="it" x="575.5" y="586.8">Alphasatellitidae</text>
<text class="it" x="575.5" y="597.5">Circovirus</text>
<text class="it" x="575.5" y="608">Nanoviridae</text>
<text class="nm" x="571.7" y="623.5">30</text><text class="it" x="575.5" y="623.5">Geminiviridae</text>
<text class="it" x="575.5" y="634.2">Genomoviridae</text>
<text class="nm" x="571.7" y="648.5">31</text><text class="it" x="575.5" y="648.5">Tolecusatellitidae</text>
</g>
</svg>
